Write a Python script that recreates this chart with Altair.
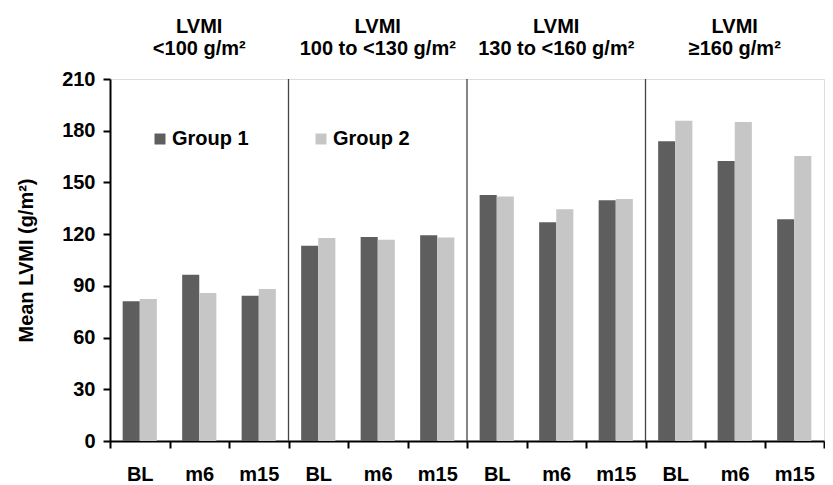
import altair as alt
import pandas as pd

panels = ["P1", "P2", "P3", "P4"]
panel_line1 = ["LVMI", "LVMI", "LVMI", "LVMI"]
panel_line2 = ["<100 g/m²", "100 to <130 g/m²", "130 to <160 g/m²", "≥160 g/m²"]
times = ["BL", "m6", "m15"]
groups = ["Group 1", "Group 2"]
group1 = [81.0, 96.5, 84.3, 113.3, 118.3, 119.3, 142.7, 126.9, 139.6, 173.9, 162.4, 128.6]
group2 = [82.4, 85.9, 88.2, 117.8, 116.8, 118.0, 141.9, 134.4, 140.4, 185.8, 185.1, 165.3]
y_ticks = [0, 30, 60, 90, 120, 150, 180, 210]
colors = ["#5e5e5e", "#c6c6c6"]

cats = [f"{p}|{t}" for p in panels for t in times]
rows = []
for i, c in enumerate(cats):
    rows.append({"cat": c, "group": groups[0], "value": group1[i]})
    rows.append({"cat": c, "group": groups[1], "value": group2[i]})
df = pd.DataFrame(rows)

titles = pd.DataFrame({
    "cat": [f"{p}|m6" for p in panels],
    "l1": panel_line1,
    "l2": panel_line2,
})
seps = pd.DataFrame({"cat": [f"{p}|BL" for p in panels[1:]], "top": [210] * 3, "bot": [0] * 3})

FONT = "Liberation Sans"

xscale = alt.Scale(domain=cats, paddingInner=0, paddingOuter=0)

bars = alt.Chart(df).mark_bar().encode(
    x=alt.X("cat:N", scale=xscale, sort=cats,
            axis=alt.Axis(title=None, labelExpr="split(datum.label, '|')[1]",
                          tickBand="extent", labelAngle=0, tickSize=7,
                          labelPadding=16, labelFontSize=20, labelFontWeight="bold",
                          labelColor="black", domainColor="black", domainWidth=2,
                          tickColor="black", tickWidth=2, labelFont=FONT)),
    xOffset=alt.XOffset("group:N", scale=alt.Scale(paddingInner=0, paddingOuter=0.74)),
    y=alt.Y("value:Q", scale=alt.Scale(domain=[0, 210], nice=False),
            axis=alt.Axis(values=y_ticks, title="Mean LVMI (g/m²)", grid=False,
                          tickSize=7, labelPadding=8, labelFontSize=20, labelFontWeight="bold",
                          labelColor="black", domainColor="black", domainWidth=2,
                          tickColor="black", tickWidth=2, labelFont=FONT,
                          titleFont=FONT, titleFontSize=20, titleFontWeight="bold",
                          titleColor="black", titlePadding=25)),
    color=alt.Color("group:N", scale=alt.Scale(domain=groups, range=colors),
                    legend=alt.Legend(title=None, orient="none", legendX=40, legendY=50,
                                      direction="horizontal", symbolType="square",
                                      symbolSize=121, symbolStrokeWidth=0, padding=0,
                                      labelFontSize=20, labelFontWeight="bold",
                                      labelFont=FONT, labelColor="black",
                                      columnPadding=62, labelOffset=2)),
)

rules = alt.Chart(seps).mark_rule(color="#444444", strokeWidth=1.3).encode(
    x=alt.X("cat:N", scale=xscale, sort=cats, bandPosition=0),
    y=alt.Y("top:Q"),
    y2="bot:Q",
)

t1 = alt.Chart(titles).mark_text(fontSize=20, fontWeight="bold", font=FONT,
                                 baseline="alphabetic", color="black").encode(
    x=alt.X("cat:N", scale=xscale, sort=cats), y=alt.value(-46), text="l1:N")
t2 = alt.Chart(titles).mark_text(fontSize=20, fontWeight="bold", font=FONT,
                                 baseline="alphabetic", color="black").encode(
    x=alt.X("cat:N", scale=xscale, sort=cats), y=alt.value(-24), text="l2:N")

chart = alt.layer(bars, rules, t1, t2).properties(
    width=714, height=362,
    padding={"left": 8, "top": 9, "right": 0, "bottom": 2},
).configure_view(stroke=None).configure(background="white")

chart.save("out.html", embed_options={"renderer": "svg", "actions": False})
